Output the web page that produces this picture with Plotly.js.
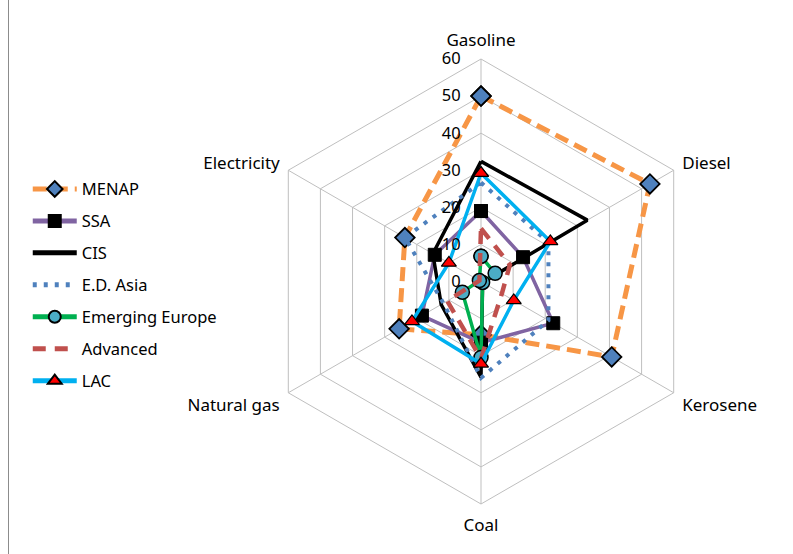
<!DOCTYPE html>
<html><head><meta charset="utf-8">
<script src="https://cdn.plot.ly/plotly-3.0.1.min.js"></script>
<style>html,body{margin:0;padding:0;background:#fff}#wrap{position:relative;width:793px;height:554px}#chart{width:793px;height:554px}#frame{position:absolute;left:8px;top:0;width:0;height:554px;border-left:1px solid #8c8c8c;pointer-events:none}</style>
</head><body><div id="wrap"><div id="chart"></div><div id="frame"></div></div>
<script>
const categories = ["Gasoline","Diesel","Kerosene","Coal","Natural gas","Electricity"];
const seriesNames = ["MENAP","SSA","CIS","E.D. Asia","Emerging Europe","Advanced","LAC"];
const menap = [50, 52.6, 40.7, 14.4, 25.5, 23.7];
const ssa = [19, 13.1, 22.5, 16.5, 18.4, 14.4];
const cis = [32.4, 33.1, 0.5, 25.8, 12.4, 15];
const edAsia = [26.7, 21, 21, 26, 11.7, 23.7];
const emergingEurope = [6.8, 4.4, 0.5, 20.5, 5.8, 0.5];
const advanced = [14.3, 9, 6.5, 20.8, 10.5, 0.5];
const lac = [29.2, 21.6, 10.2, 22.2, 21.5, 10];
const radialTicks = [0,10,20,30,40,50,60];

const seriesValues = [menap, ssa, cis, edAsia, emergingEurope, advanced, lac];
const styles = [
  {line:{color:'#F79646',width:5,dash:'14px,7px'}, marker:{symbol:'diamond',size:15,color:'#4F81BD',line:{color:'#000',width:1.8}}, mode:'lines+markers'},
  {line:{color:'#8064A2',width:3.5}, marker:{symbol:'square',size:13,color:'#000',line:{color:'#000',width:1}}, mode:'lines+markers'},
  {line:{color:'#000000',width:3.5}, mode:'lines'},
  {line:{color:'#4F81BD',width:4,dash:'4px,7px'}, mode:'lines'},
  {line:{color:'#00B050',width:3.5}, marker:{symbol:'circle',size:14,color:'#4BACC6',line:{color:'#000',width:1.5}}, mode:'lines+markers'},
  {line:{color:'#C0504D',width:4.5,dash:'13px,9px'}, mode:'lines'},
  {line:{color:'#00B0F0',width:3.5}, marker:{symbol:'triangle-up',size:13,color:'#FF0000',line:{color:'#000',width:1.2}}, mode:'lines+markers'}
];

const traces = seriesNames.map((name,i)=>{
  const r = seriesValues[i].concat([seriesValues[i][0]]);
  const theta = categories.concat([categories[0]]);
  return Object.assign({type:'scatterpolar', name:name, r:r, theta:theta, legendgroup:'g'+i, cliponaxis:false}, styles[i]);
});

const fam = '"Noto Sans", "Open Sans", sans-serif';
const layout = {
  width:793, height:554,
  margin:{l:258, r:89, t:58.5, b:49.5},
  paper_bgcolor:'#fff',
  font:{family:fam, size:16.5, color:'#000'},
  showlegend:true,
  legend:{xref:'container', yref:'container', x:0.035, y:0.69, xanchor:'left', yanchor:'top', tracegroupgap:7.5, itemwidth:44, itemsizing:'constant', font:{family:fam,size:16.5,color:'#000'}, bgcolor:'rgba(0,0,0,0)'},
  polar:{
    bgcolor:'#fff',
    gridshape:'linear',
    angularaxis:{type:'category', categoryarray:categories, rotation:90, direction:'clockwise', showline:true, linecolor:'#BFBFBF', linewidth:1, gridcolor:'#BFBFBF', ticks:'outside', ticklen:6, tickcolor:'rgba(0,0,0,0)', tickfont:{family:fam,size:17,color:'#000'}},
    radialaxis:{range:[0,60], tickvals:radialTicks, angle:90, tickangle:90, side:'counterclockwise', showline:false, ticks:'outside', ticklen:14, tickcolor:'rgba(0,0,0,0)', gridcolor:'#BFBFBF', tickfont:{family:fam,size:16.5,color:'#000'}}
  }
};
Plotly.newPlot('chart', traces, layout, {displayModeBar:false, staticPlot:true});
</script></body></html>
